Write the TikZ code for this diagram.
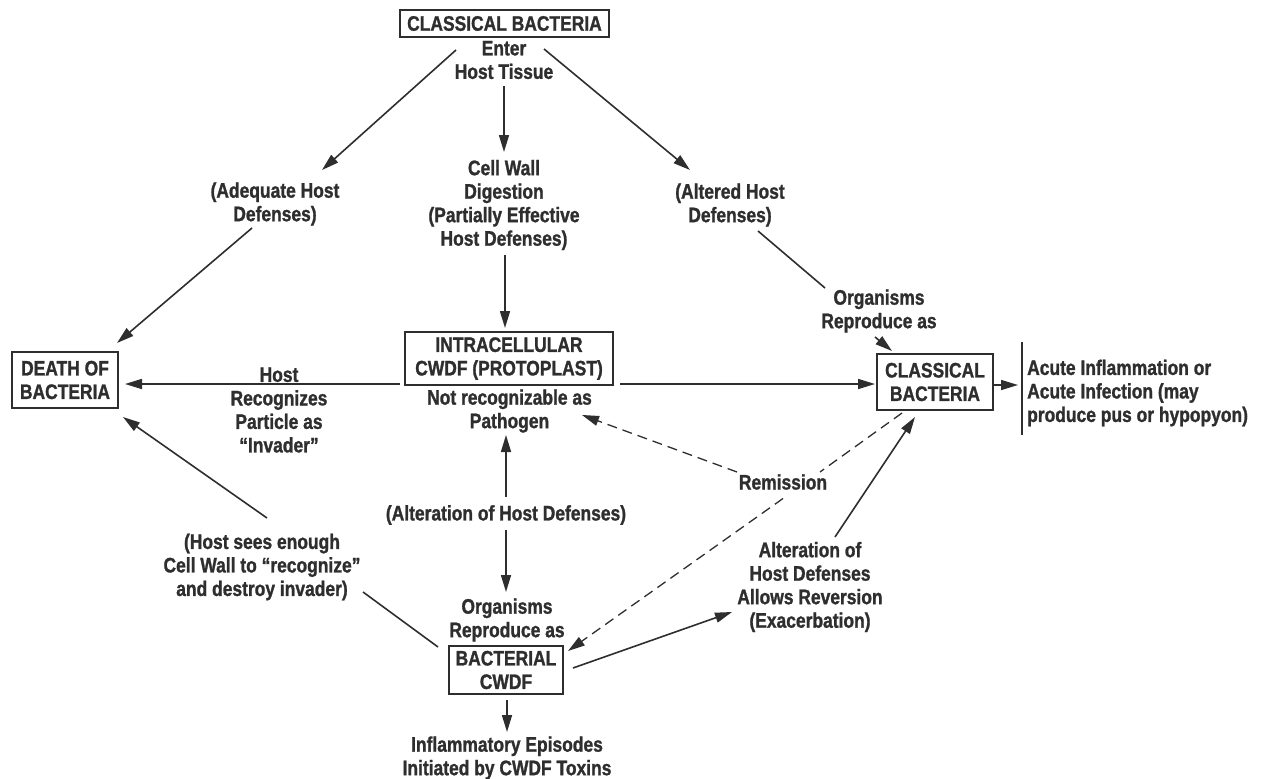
\documentclass[tikz,border=0pt]{standalone}
\usepackage{fontspec}
\setmainfont{Liberation Sans}[FakeStretch=0.83,BoldFeatures={FakeBold=1.2}]
\usetikzlibrary{arrows.meta}
\definecolor{ink}{HTML}{2E2E2E}
\begin{document}
\begin{tikzpicture}[x=1pt,y=-1pt,
  every node/.style={font=\fontsize{21}{23.5}\selectfont\bfseries, text=ink, inner sep=0pt, align=center},
  box/.style={draw=ink, line width=1.5pt},
  conn/.style={draw=ink, line width=1.6pt},
  arr/.style={conn, -{Triangle[length=17pt,width=10pt]}},
  dsh/.style={draw=ink, line width=1.3pt, dash pattern=on 10pt off 6pt},
  dsharr/.style={dsh, -{Triangle[length=17pt,width=10pt]}}]
\path[use as bounding box] (0,0) rectangle (1261,779);

% boxes
\node[box, minimum width=209pt, minimum height=27pt] (top) at (504.5,23.5) {CLASSICAL BACTERIA};
\node[box, minimum width=106pt, minimum height=56pt] (death) at (65,380) {DEATH OF\\BACTERIA};
\node[box, minimum width=208pt, minimum height=53pt] (intra) at (509,358.5) {INTRACELLULAR\\CWDF (PROTOPLAST)};
\node[box, minimum width=116pt, minimum height=56pt] (cbr) at (935,382) {CLASSICAL\\BACTERIA};
\node[box, minimum width=114pt, minimum height=48pt] (bcwdf) at (506,670) {BACTERIAL\\CWDF};

% labels
\node (enter) at (504,60) {Enter\\Host Tissue};
\node (adequate) at (275,204) {(Adequate Host\\Defenses)};
\node (cellwall) at (504,205) {Cell Wall\\Digestion\\(Partially Effective\\Host Defenses)};
\node (altered) at (730,205) {(Altered Host\\Defenses)};
\node (org1) at (879,311) {Organisms\\Reproduce as};
\node[anchor=west, align=left] (acute) at (1027,393) {Acute Inflammation or\\Acute Infection (may\\produce pus or hypopyon)};
\node (host) at (279,410) {Host\\Recognizes\\Particle as\\``Invader''};
\node (notrec) at (509.5,411) {Not recognizable as\\Pathogen};
\node (remission) at (783,482) {Remission};
\node (alterhost) at (506,515) {(Alteration of Host Defenses)};
\node (hostsees) at (262,567) {(Host sees enough\\Cell Wall to ``recognize''\\and destroy invader)};
\node (org2) at (507,620) {Organisms\\Reproduce as};
\node (inflam) at (507,758) {Inflammatory Episodes\\Initiated by CWDF Toxins};
\node (alter2) at (810,587) {Alteration of\\Host Defenses\\Allows Reversion\\(Exacerbation)};

% connector end points
\coordinate (a1s) at (456,50);  \coordinate (a1e) at (322,170);
\coordinate (a2s) at (504,86);  \coordinate (a2e) at (504,152);
\coordinate (a3s) at (544,49);  \coordinate (a3e) at (690,170);
\coordinate (a4s) at (252,228); \coordinate (a4e) at (117,343);
\coordinate (a5s) at (505,255); \coordinate (a5e) at (505,328);
\coordinate (a6s) at (400,384); \coordinate (a6e) at (125,384);
\coordinate (a7s) at (620,384); \coordinate (a7e) at (875,384);
\coordinate (a8s) at (758,231); \coordinate (a8e) at (825,288);
\coordinate (a9s) at (875,337); \coordinate (a9e) at (892,351);
\coordinate (a10s) at (993,385); \coordinate (a10e) at (1018,385);
\coordinate (bar1) at (1022,342); \coordinate (bar2) at (1022,435);
\coordinate (d1s) at (902,413); \coordinate (d1m) at (820,472);
\coordinate (d1n) at (783,498.5); \coordinate (d1e) at (568,651);
\coordinate (d2s) at (737,472); \coordinate (d2e) at (582,415);
\coordinate (a11s) at (267,518); \coordinate (a11e) at (123,417);
\coordinate (a12s) at (363,592); \coordinate (a12e) at (438,647);
\coordinate (a13s) at (506,497); \coordinate (a13e) at (506,435);
\coordinate (a14s) at (506,530); \coordinate (a14e) at (506,592);
\coordinate (a15s) at (507,700); \coordinate (a15e) at (507,732);
\coordinate (a16s) at (573,668); \coordinate (a16e) at (732,612);
\coordinate (a17s) at (835,537); \coordinate (a17e) at (915,417);

% connectors
\draw[arr] (a1s) -- (a1e);
\draw[arr] (a2s) -- (a2e);
\draw[arr] (a3s) -- (a3e);
\draw[arr] (a4s) -- (a4e);
\draw[arr] (a5s) -- (a5e);
\draw[arr] (a6s) -- (a6e);
\draw[arr] (a7s) -- (a7e);
\draw[conn] (a8s) -- (a8e);
\draw[arr] (a9s) -- (a9e);
\draw[arr] (a10s) -- (a10e);
\draw[conn] (bar1) -- (bar2);
\draw[dsh] (d1s) -- (d1m);
\draw[dsharr] (d1n) -- (d1e);
\draw[dsharr] (d2s) -- (d2e);
\draw[arr] (a11s) -- (a11e);
\draw[conn] (a12s) -- (a12e);
\draw[arr] (a13s) -- (a13e);
\draw[arr] (a14s) -- (a14e);
\draw[arr] (a15s) -- (a15e);
\draw[arr] (a16s) -- (a16e);
\draw[arr] (a17s) -- (a17e);
\end{tikzpicture}
\end{document}
